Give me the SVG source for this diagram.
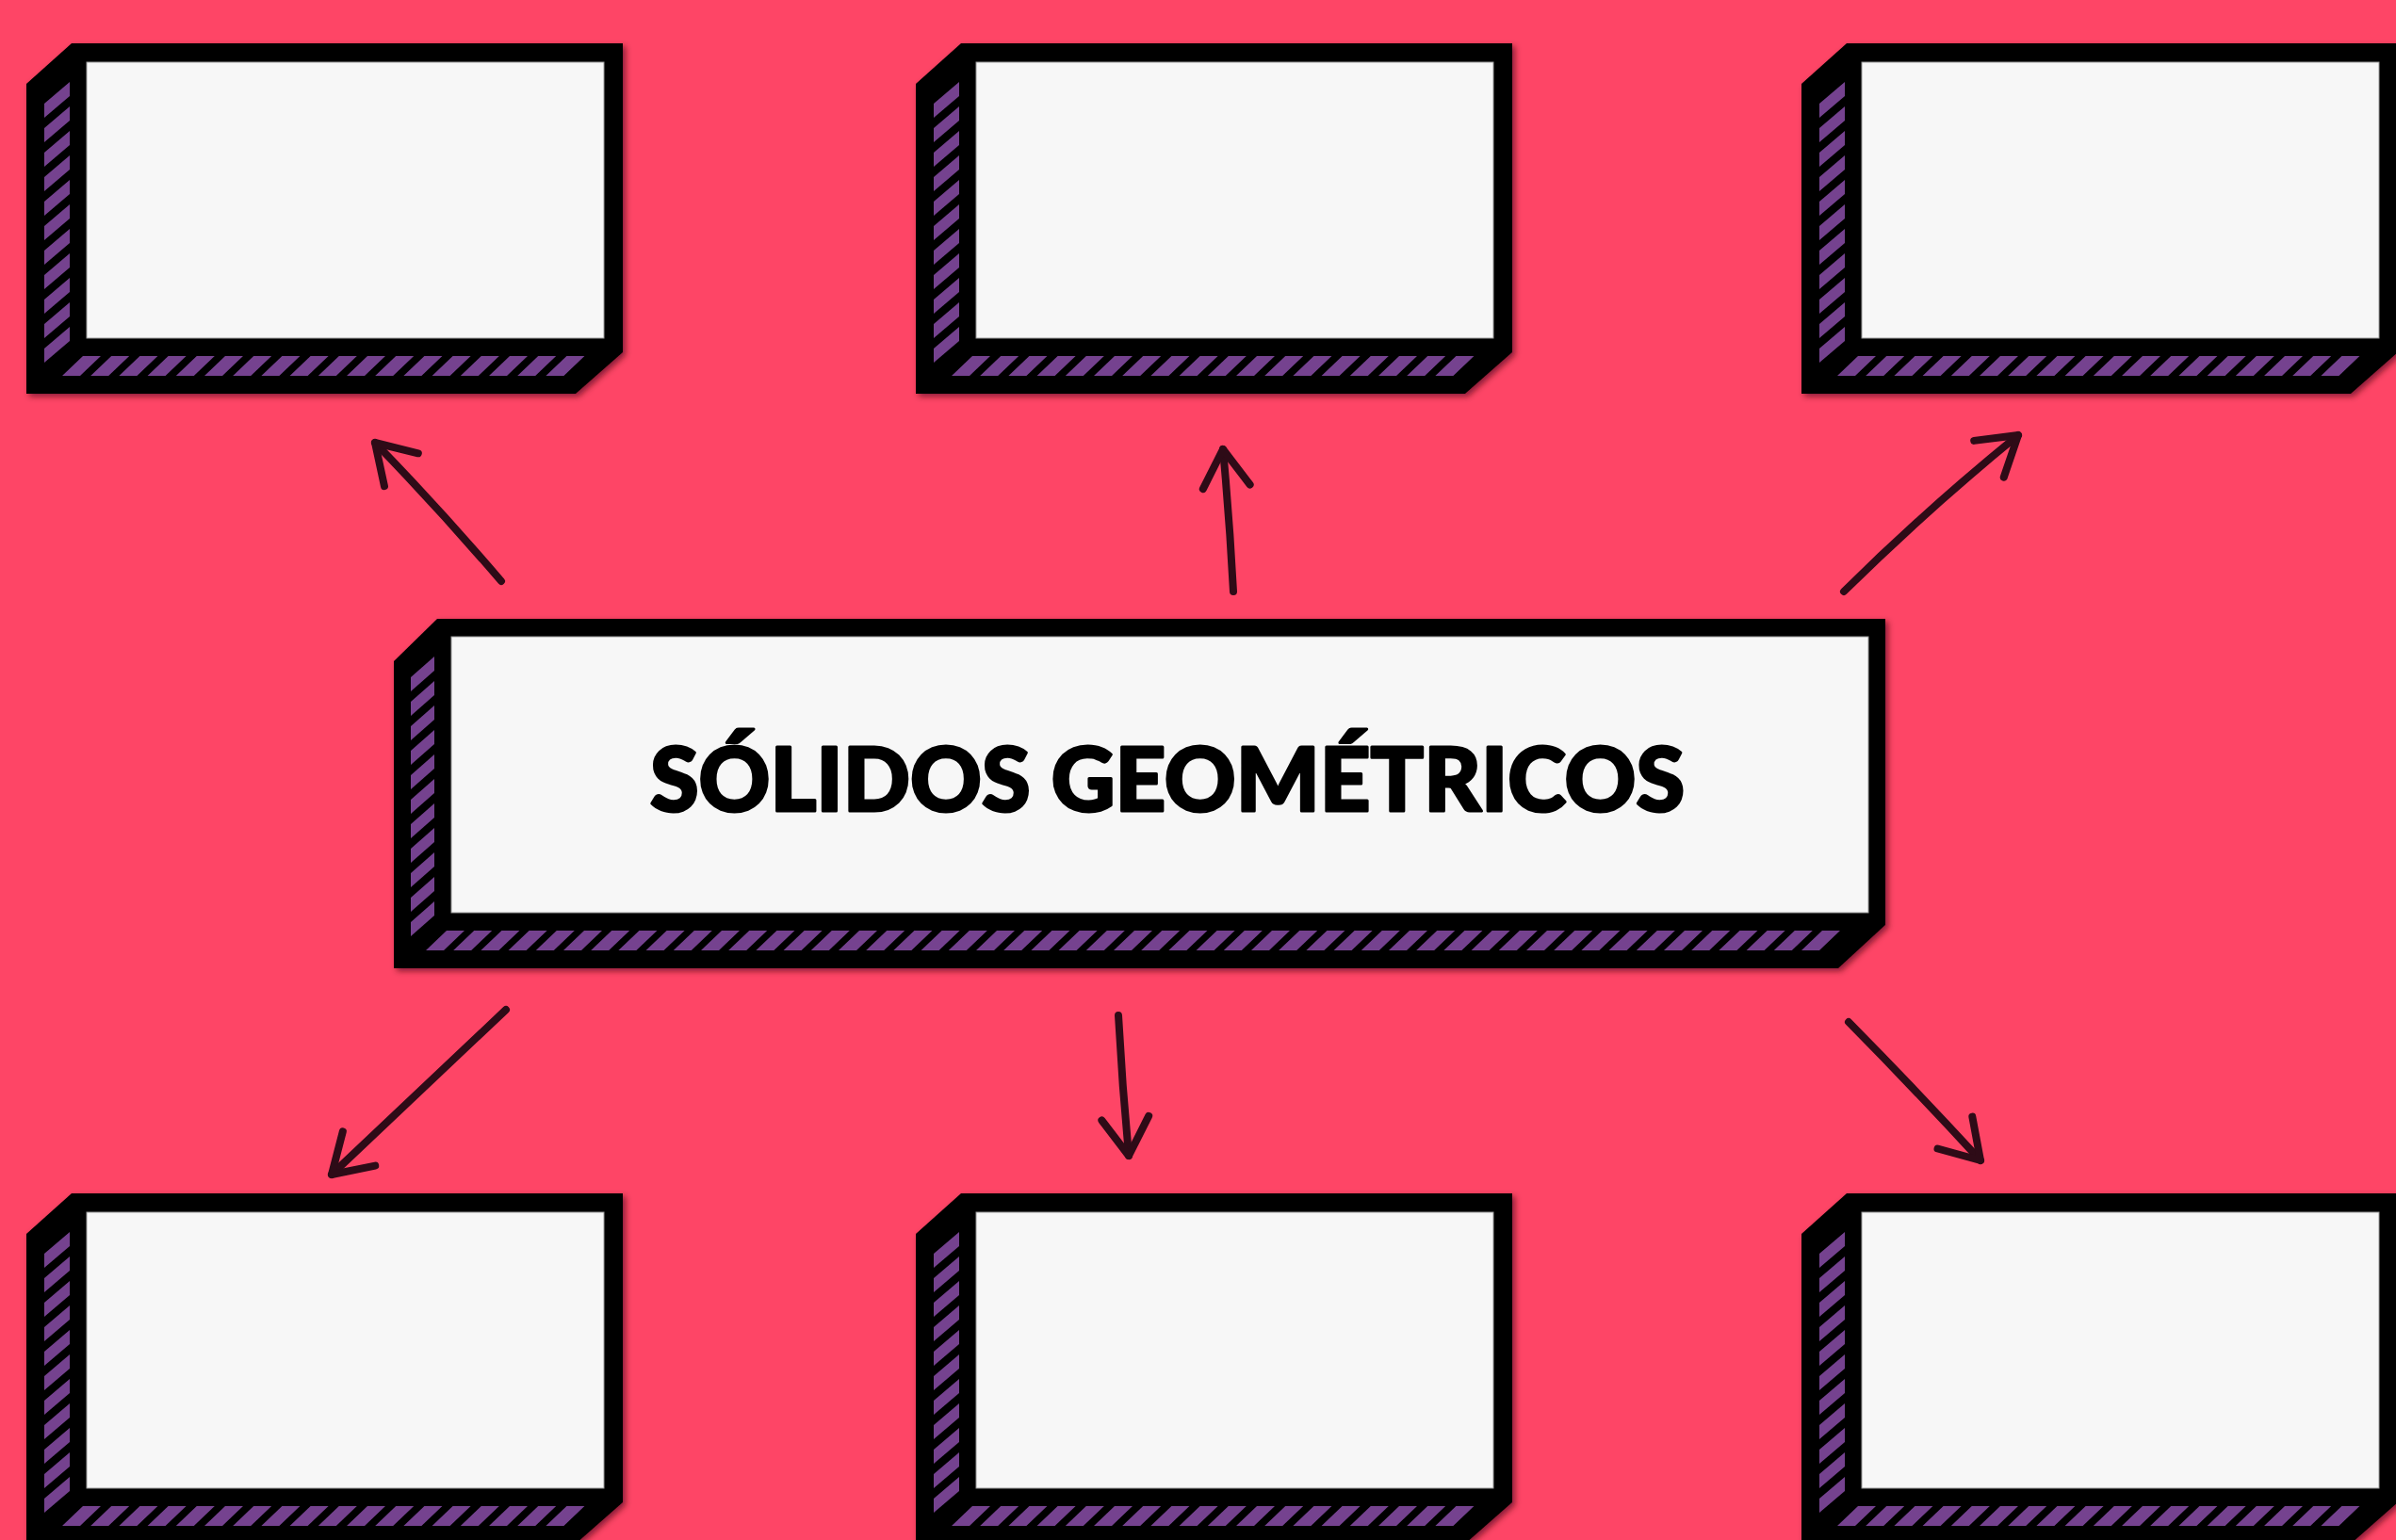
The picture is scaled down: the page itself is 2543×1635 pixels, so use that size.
<svg xmlns="http://www.w3.org/2000/svg" xmlns:xlink="http://www.w3.org/1999/xlink" width="2543" height="1635" viewBox="0 0 2543 1635">
  <style>
    .frame { fill: #000000; }
    .face { fill: #f7f7f7; stroke: #9a9a9a; stroke-width: 1; }
    .stripe { fill: #74428f; }
    .conn { fill: none; stroke: #2e0b17; stroke-width: 8; stroke-linecap: round; stroke-linejoin: round; marker-end: url(#ah); }
    .title { font-family: "Lato", "Inter", "Liberation Sans", sans-serif; font-weight: 900; font-size: 93px; fill: #000000; stroke: #000000; stroke-width: 3; stroke-linejoin: round; }
  </style>
  <defs>
    <filter id="shadow" x="-5%" y="-5%" width="112%" height="115%">
      <feDropShadow dx="3" dy="3" stdDeviation="3" flood-color="#3a0010" flood-opacity="0.6"/>
    </filter>
    <marker id="ah" markerUnits="userSpaceOnUse" viewBox="-50 -40 60 80" markerWidth="60" markerHeight="80" refX="0" refY="0" orient="auto" overflow="visible">
      <path d="M-40,-25 L0,0 L-40,25" fill="none" stroke="#2e0b17" stroke-width="8" stroke-linecap="round" stroke-linejoin="round"/>
    </marker>
    <g id="smallBox">
      <polygon class="frame" points="76,46 661,46 661,374 611,418 28,418 28,89"/>
      <rect class="face" x="92" y="66" width="549" height="293"/>
      <path class="stripe" d="M74,87 v15 l-27,23 v-15 z m0,26 v15 l-27,23 v-15 z m0,26 v15 l-27,23 v-15 z m0,26 v15 l-27,23 v-15 z m0,26 v15 l-27,23 v-15 z m0,26 v15 l-27,23 v-15 z m0,26 v15 l-27,23 v-15 z m0,26 v15 l-27,23 v-15 z m0,26 v15 l-27,23 v-15 z m0,26 v15 l-27,23 v-15 z m0,26 v15 l-27,23 v-15 z"/>
      <path class="stripe" d="M88,378 h19 l-22,21 h-19 z m30.2,0 h19 l-22,21 h-19 z m30.2,0 h19 l-22,21 h-19 z m30.2,0 h19 l-22,21 h-19 z m30.2,0 h19 l-22,21 h-19 z m30.2,0 h19 l-22,21 h-19 z m30.2,0 h19 l-22,21 h-19 z m30.2,0 h19 l-22,21 h-19 z m30.2,0 h19 l-22,21 h-19 z m30.2,0 h19 l-22,21 h-19 z m30.2,0 h19 l-22,21 h-19 z m30.2,0 h19 l-22,21 h-19 z m30.2,0 h19 l-22,21 h-19 z m30.2,0 h19 l-22,21 h-19 z m30.2,0 h19 l-22,21 h-19 z m30.2,0 h19 l-22,21 h-19 z m30.2,0 h19 l-22,21 h-19 z m30.2,0 h19 l-22,21 h-19 z"/>
    </g>
  </defs>

  <rect x="0" y="0" width="2543" height="1635" fill="#fe4566"/>

  <g id="node-top-left" filter="url(#shadow)"><use href="#smallBox" xlink:href="#smallBox"/></g>
  <g id="node-top-middle" filter="url(#shadow)"><use href="#smallBox" xlink:href="#smallBox" transform="translate(944,0)"/></g>
  <g id="node-top-right" filter="url(#shadow)"><use href="#smallBox" xlink:href="#smallBox" transform="translate(1884,0)"/></g>
  <g id="node-bottom-left" filter="url(#shadow)"><use href="#smallBox" xlink:href="#smallBox" transform="translate(0,1221)"/></g>
  <g id="node-bottom-middle" filter="url(#shadow)"><use href="#smallBox" xlink:href="#smallBox" transform="translate(944,1221)"/></g>
  <g id="node-bottom-right" filter="url(#shadow)"><use href="#smallBox" xlink:href="#smallBox" transform="translate(1884,1221)"/></g>

  <g id="node-center">
    <g filter="url(#shadow)">
      <polygon class="frame" points="464,657 2001,657 2001,982 1951,1028 418,1028 418,702"/>
      <rect class="face" x="479" y="676" width="1504" height="293"/>
      <path class="stripe" d="M461,697 v15 l-25,22 v-15 z m0,26 v15 l-25,22 v-15 z m0,26 v15 l-25,22 v-15 z m0,26 v15 l-25,22 v-15 z m0,26 v15 l-25,22 v-15 z m0,26 v15 l-25,22 v-15 z m0,26 v15 l-25,22 v-15 z m0,26 v15 l-25,22 v-15 z m0,26 v15 l-25,22 v-15 z m0,26 v15 l-25,22 v-15 z m0,26 v15 l-25,22 v-15 z"/>
      <path class="stripe" d="M474,988 h19 l-22,21 h-19 z m29.2,0 h19 l-22,21 h-19 z m29.2,0 h19 l-22,21 h-19 z m29.2,0 h19 l-22,21 h-19 z m29.2,0 h19 l-22,21 h-19 z m29.2,0 h19 l-22,21 h-19 z m29.2,0 h19 l-22,21 h-19 z m29.2,0 h19 l-22,21 h-19 z m29.2,0 h19 l-22,21 h-19 z m29.2,0 h19 l-22,21 h-19 z m29.2,0 h19 l-22,21 h-19 z m29.2,0 h19 l-22,21 h-19 z m29.2,0 h19 l-22,21 h-19 z m29.2,0 h19 l-22,21 h-19 z m29.2,0 h19 l-22,21 h-19 z m29.2,0 h19 l-22,21 h-19 z m29.2,0 h19 l-22,21 h-19 z m29.2,0 h19 l-22,21 h-19 z m29.2,0 h19 l-22,21 h-19 z m29.2,0 h19 l-22,21 h-19 z m29.2,0 h19 l-22,21 h-19 z m29.2,0 h19 l-22,21 h-19 z m29.2,0 h19 l-22,21 h-19 z m29.2,0 h19 l-22,21 h-19 z m29.2,0 h19 l-22,21 h-19 z m29.2,0 h19 l-22,21 h-19 z m29.2,0 h19 l-22,21 h-19 z m29.2,0 h19 l-22,21 h-19 z m29.2,0 h19 l-22,21 h-19 z m29.2,0 h19 l-22,21 h-19 z m29.2,0 h19 l-22,21 h-19 z m29.2,0 h19 l-22,21 h-19 z m29.2,0 h19 l-22,21 h-19 z m29.2,0 h19 l-22,21 h-19 z m29.2,0 h19 l-22,21 h-19 z m29.2,0 h19 l-22,21 h-19 z m29.2,0 h19 l-22,21 h-19 z m29.2,0 h19 l-22,21 h-19 z m29.2,0 h19 l-22,21 h-19 z m29.2,0 h19 l-22,21 h-19 z m29.2,0 h19 l-22,21 h-19 z m29.2,0 h19 l-22,21 h-19 z m29.2,0 h19 l-22,21 h-19 z m29.2,0 h19 l-22,21 h-19 z m29.2,0 h19 l-22,21 h-19 z m29.2,0 h19 l-22,21 h-19 z m29.2,0 h19 l-22,21 h-19 z m29.2,0 h19 l-22,21 h-19 z m29.2,0 h19 l-22,21 h-19 z m29.2,0 h19 l-22,21 h-19 z m29.2,0 h19 l-22,21 h-19 z"/>
    </g>
    <text class="title" x="690" y="861" textLength="1098" lengthAdjust="spacingAndGlyphs">SÓLIDOS GEOMÉTRICOS</text>
  </g>

  <g id="connectors">
    <path class="conn" d="M532,617 Q467,541 398,470"/>
    <path class="conn" d="M1309,628 Q1305,552 1298,477"/>
    <path class="conn" d="M1957,628 Q2045,541 2142,462"/>
    <path class="conn" d="M537,1072 Q446,1158 352,1247"/>
    <path class="conn" d="M1187,1078 Q1191,1152 1198,1227"/>
    <path class="conn" d="M1962,1085 Q2033,1157 2102,1232"/>
  </g>
</svg>
